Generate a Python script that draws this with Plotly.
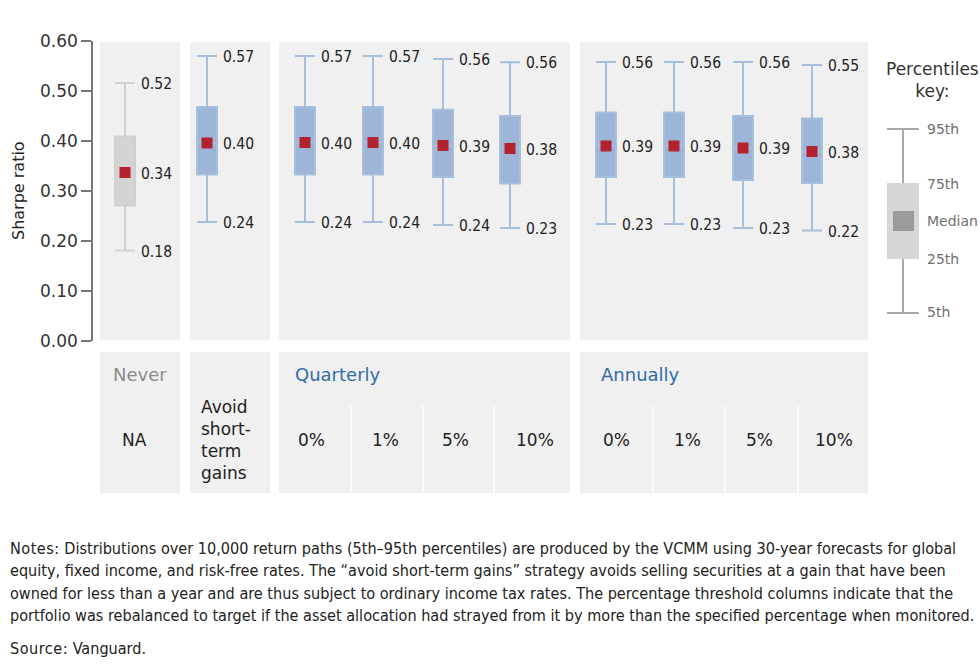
import plotly.graph_objects as go

# ---------------- data ----------------
categories = ["Never", "Avoid short-term gains",
              "Quarterly 0%", "Quarterly 1%", "Quarterly 5%", "Quarterly 10%",
              "Annually 0%", "Annually 1%", "Annually 5%", "Annually 10%"]
p5 = [0.181, 0.238, 0.238, 0.238, 0.232, 0.226, 0.234, 0.234, 0.226, 0.221]
p25 = [0.271, 0.333, 0.333, 0.333, 0.328, 0.315, 0.328, 0.328, 0.322, 0.316]
median = [0.337, 0.396, 0.397, 0.397, 0.391, 0.385, 0.390, 0.390, 0.386, 0.379]
p75 = [0.409, 0.468, 0.468, 0.468, 0.4625, 0.450, 0.457, 0.457, 0.450, 0.445]
p95 = [0.516, 0.570, 0.570, 0.570, 0.564, 0.5575, 0.558, 0.558, 0.558, 0.552]
label_p95 = ["0.52", "0.57", "0.57", "0.57", "0.56", "0.56", "0.56", "0.56", "0.56", "0.55"]
label_med = ["0.34", "0.40", "0.40", "0.40", "0.39", "0.38", "0.39", "0.39", "0.39", "0.38"]
label_p5 = ["0.18", "0.24", "0.24", "0.24", "0.24", "0.23", "0.23", "0.23", "0.23", "0.22"]

y_ticks = [0.0, 0.1, 0.2, 0.3, 0.4, 0.5, 0.6]

group_headers = ["Never", "", "Quarterly", "Annually"]
row_labels = ["NA", "Avoid<br>short-<br>term<br>gains",
              "0%", "1%", "5%", "10%", "0%", "1%", "5%", "10%"]

notes_lines = [
    "Notes: Distributions over 10,000 return paths (5th\u201395th percentiles) are produced by the VCMM using 30-year forecasts for global",
    "equity, fixed income, and risk-free rates. The \u201cavoid short-term gains\u201d strategy avoids selling securities at a gain that have been",
    "owned for less than a year and are thus subject to ordinary income tax rates. The percentage threshold columns indicate that the",
    "portfolio was rebalanced to target if the asset allocation had strayed from it by more than the specified percentage when monitored.",
]
source_line = "Source: Vanguard."

# ---------------- layout geometry (pixels) ----------------
W, H = 980, 667
L, T, PW, PH = 93, 41, 887, 300
box_x = [125, 207, 305, 373, 443, 510, 606, 674, 743, 812]
panels = [(100, 180), (190, 270), (279, 570), (580, 868)]
header_x = [111, None, 293, 599]
row_label_x = [134, 199, 311, 385, 455, 535, 616, 687, 759, 834]
sep_x = [351, 423, 494, 653, 725, 798]

def px(x):
    return (x - L) / PW

def py(y):
    return (T + PH - y) / PH

BLUE_FILL = "#9db6d7"
BLUE_LINE = "#a7bedc"
GRAY_FILL = "#d3d3d3"
GRAY_LINE = "#d0d0d0"
RED = "#b3232f"
PANEL = "#f0f0f0"
NARROW = "DejaVu Sans Condensed, Liberation Sans Narrow, sans-serif"
SANS = "DejaVu Sans, Verdana, sans-serif"

fig = go.Figure()

# boxes
for idx_list, fill, line in [([0], GRAY_FILL, GRAY_LINE), (list(range(1, 10)), BLUE_FILL, BLUE_LINE)]:
    fig.add_trace(go.Box(
        x=[box_x[i] for i in idx_list],
        q1=[p25[i] for i in idx_list],
        median=[median[i] for i in idx_list],
        q3=[p75[i] for i in idx_list],
        lowerfence=[p5[i] for i in idx_list],
        upperfence=[p95[i] for i in idx_list],
        width=20, whiskerwidth=1,
        fillcolor=fill, line=dict(color=line, width=2),
        boxpoints=False, showlegend=False, hoverinfo="skip",
    ))

fig.add_trace(go.Scatter(
    x=box_x, y=median, mode="markers",
    marker=dict(symbol="square", size=11, color=RED, line=dict(width=0)),
    showlegend=False, hoverinfo="skip",
))

shapes = []
annotations = []

# panel backgrounds (top) and table panels (bottom)
for (x0, x1) in panels:
    shapes.append(dict(type="rect", xref="paper", yref="paper", layer="below",
                       x0=px(x0), x1=px(x1), y0=py(340), y1=py(42),
                       fillcolor=PANEL, line=dict(width=0)))
    shapes.append(dict(type="rect", xref="paper", yref="paper", layer="below",
                       x0=px(x0), x1=px(x1), y0=py(493), y1=py(352),
                       fillcolor=PANEL, line=dict(width=0)))
for sx in sep_x:
    shapes.append(dict(type="line", xref="paper", yref="paper", layer="below",
                       x0=px(sx), x1=px(sx), y0=py(406), y1=py(493),
                       line=dict(color="white", width=1.5)))

# value labels
for i in range(len(categories)):
    for val, txt in [(p95[i], label_p95[i]), (median[i], label_med[i]), (p5[i], label_p5[i])]:
        annotations.append(dict(x=box_x[i] + 14, y=val, xref="x", yref="y",
                                text=txt, showarrow=False, xanchor="left", yanchor="middle",
                                yshift=-1,
                                font=dict(family=NARROW, size=15.5, color="#222222")))

# y axis title
annotations.append(dict(x=px(18), y=py(191), xref="paper", yref="paper", text="Sharpe ratio",
                        textangle=-90, showarrow=False, xanchor="center", yanchor="middle",
                        font=dict(family=SANS, size=16, color="#222222")))

# table headers
header_colors = ["#8a8a8a", None, "#2f6ca8", "#2f6ca8"]
for hx, ht, hc in zip(header_x, group_headers, header_colors):
    if ht:
        annotations.append(dict(x=px(hx), y=py(374), xref="paper", yref="paper", text=ht,
                                showarrow=False, xanchor="left", yanchor="middle",
                                font=dict(family=SANS, size=18, color=hc)))
for i, t in enumerate(row_labels):
    if i == 1:
        annotations.append(dict(x=px(row_label_x[i]), y=py(440), xref="paper", yref="paper",
                                text=t, showarrow=False, xanchor="left", yanchor="middle",
                                align="left",
                                font=dict(family=SANS, size=17, color="#222222")))
    else:
        annotations.append(dict(x=px(row_label_x[i]), y=py(440), xref="paper", yref="paper",
                                text=t, showarrow=False, xanchor="center", yanchor="middle",
                                font=dict(family=SANS, size=17, color="#222222")))

# percentiles key
annotations.append(dict(x=px(932), y=py(80), xref="paper", yref="paper",
                        text="Percentiles<br>key:", showarrow=False,
                        xanchor="center", yanchor="middle", align="center",
                        font=dict(family=SANS, size=17, color="#333333")))
KEY_LINE = "#a8a8a8"
shapes += [
    dict(type="line", xref="paper", yref="paper", x0=px(903), x1=px(903), y0=py(313), y1=py(129),
         line=dict(color=KEY_LINE, width=2)),
    dict(type="line", xref="paper", yref="paper", x0=px(887), x1=px(919), y0=py(129), y1=py(129),
         line=dict(color=KEY_LINE, width=2)),
    dict(type="line", xref="paper", yref="paper", x0=px(887), x1=px(919), y0=py(313), y1=py(313),
         line=dict(color=KEY_LINE, width=2)),
    dict(type="rect", xref="paper", yref="paper", x0=px(887), x1=px(919), y0=py(259), y1=py(183),
         fillcolor="#d6d6d6", line=dict(width=0)),
    dict(type="rect", xref="paper", yref="paper", x0=px(893), x1=px(914), y0=py(231), y1=py(211),
         fillcolor="#9a9a9a", line=dict(width=0)),
]
for txt, yy in [("95th", 129), ("75th", 184), ("Median", 221), ("25th", 259), ("5th", 312)]:
    annotations.append(dict(x=px(925), y=py(yy), xref="paper", yref="paper", text=txt,
                            showarrow=False, xanchor="left", yanchor="middle",
                            font=dict(family=SANS, size=14, color="#707070")))

# notes
for k, line in enumerate(notes_lines):
    if line.startswith("Notes:"):
        line = "<span style='letter-spacing:0.5px'>Notes:</span>" + line[len("Notes:"):]
    annotations.append(dict(x=px(8), y=py(548 + 22.5 * k), xref="paper", yref="paper",
                            text=line, showarrow=False, xanchor="left", yanchor="middle",
                            font=dict(family=NARROW, size=16.1, color="#222222")))
src = "<span style='letter-spacing:0.5px'>Source:</span>" + source_line[len("Source:"):]
annotations.append(dict(x=px(8), y=py(648), xref="paper", yref="paper",
                        text=src, showarrow=False, xanchor="left", yanchor="middle",
                        font=dict(family=NARROW, size=16.1, color="#222222")))

fig.update_layout(
    width=W, height=H,
    margin=dict(l=L, r=W - L - PW, t=T, b=H - T - PH, pad=0),
    paper_bgcolor="white", plot_bgcolor="rgba(0,0,0,0)",
    xaxis=dict(range=[L, L + PW], visible=False, fixedrange=True),
    yaxis=dict(range=[0, 0.6], tickvals=y_ticks, tickformat=".2f",
               showline=True, linecolor="#777777", linewidth=1.5,
               ticks="outside", ticklen=10, tickcolor="#777777", tickwidth=1.5,
               showgrid=False, zeroline=False,
               tickfont=dict(family=SANS, size=17, color="#333333"), fixedrange=True),
    shapes=shapes, annotations=annotations,
    hovermode=False, showlegend=False,
)

fig.write_html("out.html")
